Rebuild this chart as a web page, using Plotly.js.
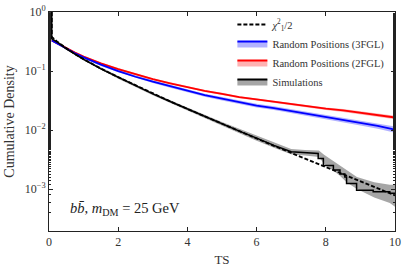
<!DOCTYPE html>
<html>
<head>
<meta charset="utf-8">
<script src="https://cdn.plot.ly/plotly-3.0.1.min.js"></script>
<style>html,body{margin:0;padding:0;background:#fff;}#chart{width:407px;height:268px;}</style>
</head>
<body>
<div id="chart"></div>
<script>
// chi^2_1 / 2 reference curve
var chiTS = [0.08, 0.08, 0.25, 0.5, 0.75, 1, 1.5, 2, 2.5, 3, 3.5, 4, 4.5, 5, 5.5, 6, 6.5, 7, 7.5, 8, 8.5, 9, 9.5, 10];
var chiCD = [1, 0.38, 0.309, 0.240, 0.193, 0.159, 0.110, 0.0787, 0.0569, 0.0416, 0.0307, 0.0228, 0.0170, 0.0127, 0.0095, 0.00715, 0.0054, 0.0041, 0.0031, 0.00234, 0.00178, 0.00135, 0.00103, 0.00078];

// Random positions (3FGL)
var fgl3TS = [0.08, 0.25, 0.5, 0.75, 1, 1.5, 2, 2.5, 3, 3.5, 4, 4.5, 5, 5.5, 6, 6.5, 7, 7.5, 8, 8.5, 9, 9.5, 10];
var fgl3CD = [0.33, 0.29, 0.243, 0.2, 0.17, 0.128, 0.1, 0.08, 0.066, 0.055, 0.046, 0.039, 0.034, 0.0295, 0.026, 0.0235, 0.021, 0.0185, 0.0165, 0.015, 0.0132, 0.0118, 0.0102];
var fgl3Lo = [0.32, 0.28, 0.234, 0.192, 0.163, 0.122, 0.095, 0.076, 0.0625, 0.052, 0.0433, 0.0366, 0.0318, 0.0275, 0.0242, 0.0218, 0.0194, 0.0170, 0.0151, 0.0136, 0.0119, 0.0105, 0.0090];
var fgl3Hi = [0.34, 0.30, 0.252, 0.208, 0.177, 0.134, 0.105, 0.084, 0.0695, 0.058, 0.0487, 0.0414, 0.0362, 0.0315, 0.0278, 0.0252, 0.0226, 0.0200, 0.0179, 0.0164, 0.0145, 0.0131, 0.0115];

// Random positions (2FGL)
var fgl2TS = [0.08, 0.25, 0.5, 0.75, 1, 1.5, 2, 2.5, 3, 3.5, 4, 4.5, 5, 5.5, 6, 6.5, 7, 7.5, 8, 8.5, 9, 9.5, 10];
var fgl2CD = [0.33, 0.29, 0.245, 0.205, 0.175, 0.135, 0.108, 0.088, 0.073, 0.062, 0.053, 0.046, 0.041, 0.036, 0.033, 0.030, 0.0275, 0.025, 0.023, 0.0215, 0.0195, 0.0178, 0.0163];
var fgl2Lo = [0.32, 0.28, 0.237, 0.198, 0.169, 0.130, 0.104, 0.085, 0.0704, 0.0597, 0.0510, 0.0442, 0.0393, 0.0345, 0.0316, 0.0287, 0.0262, 0.0238, 0.0218, 0.0203, 0.0184, 0.0167, 0.0152];
var fgl2Hi = [0.34, 0.30, 0.253, 0.212, 0.181, 0.140, 0.112, 0.091, 0.0756, 0.0643, 0.0550, 0.0478, 0.0427, 0.0375, 0.0344, 0.0313, 0.0288, 0.0262, 0.0242, 0.0227, 0.0206, 0.0189, 0.0174];

// Simulations
var simTS = [0, 0.08, 0.08, 0.25, 0.5, 0.75, 1, 1.5, 2, 2.5, 3, 3.5, 4, 4.5, 5, 5.5, 6, 6.5, 7, 7.4, 7.78, 7.78, 7.93, 7.93, 8.22, 8.22, 8.41, 8.41, 8.55, 8.55, 8.6, 8.6, 8.89, 8.89, 9.37, 9.37, 9.85, 9.85, 10];
var simCD = [1, 1, 0.35, 0.305, 0.238, 0.19, 0.157, 0.109, 0.078, 0.056, 0.041, 0.0305, 0.0228, 0.0169, 0.0127, 0.0096, 0.0073, 0.0055, 0.0043, 0.0041, 0.0040, 0.0033, 0.0033, 0.0025, 0.0025, 0.0021, 0.0021, 0.0018, 0.0018, 0.0016, 0.0016, 0.00124, 0.00124, 0.00096, 0.00096, 0.0009, 0.0009, 0.00085, 0.00085];
var simBandTS = [0.08, 1, 2, 3, 4, 5, 6, 6.5, 7, 7.4, 7.8, 7.95, 8.2, 8.4, 8.6, 8.9, 9.4, 9.85, 10];
var simHi = [0.37, 0.163, 0.082, 0.043, 0.0242, 0.0137, 0.0081, 0.0062, 0.0048, 0.0046, 0.0045, 0.0038, 0.003, 0.0025, 0.0021, 0.0016, 0.0013, 0.00118, 0.00118];
var simLo = [0.33, 0.151, 0.074, 0.039, 0.0214, 0.0117, 0.0066, 0.0050, 0.0039, 0.0037, 0.0035, 0.0027, 0.0021, 0.0017, 0.0013, 0.0010, 0.00072, 0.00058, 0.00050];

var yTickVals = [1, 0.1, 0.01, 0.001];
var yTickText = ['10<sup>0</sup>', '10<sup>\u22121</sup>', '10<sup>\u22122</sup>', '10<sup>\u22123</sup>'];
var xTickVals = [0, 2, 4, 6, 8, 10];

var names = ['<i>\u03c7</i><sup>2</sup><sub>1</sub>/2', 'Random Positions (3FGL)', 'Random Positions (2FGL)', 'Simulations'];

var SERIF = '"Liberation Serif", "Times New Roman", serif';

function band(xs, lo, hi, fillc) {
  return [
    {x: xs, y: lo, type: 'scatter', mode: 'lines', line: {width: 0, color: fillc}, showlegend: false, hoverinfo: 'skip'},
    {x: xs, y: hi, type: 'scatter', mode: 'lines', fill: 'tonexty', fillcolor: fillc, line: {width: 0, color: fillc}, showlegend: false, hoverinfo: 'skip'}
  ];
}

var traces = [];
traces = traces.concat(band(fgl2TS, fgl2Lo, fgl2Hi, 'rgba(255,0,0,0.3)'));
traces = traces.concat(band(fgl3TS, fgl3Lo, fgl3Hi, 'rgba(0,0,255,0.3)'));
traces = traces.concat(band(simBandTS, simLo, simHi, 'rgba(0,0,0,0.35)'));
traces.push({x: fgl2TS, y: fgl2CD, type: 'scatter', mode: 'lines', line: {color: '#ff0000', width: 1.8}, showlegend: false});
traces.push({x: fgl3TS, y: fgl3CD, type: 'scatter', mode: 'lines', line: {color: '#0000ff', width: 1.8}, showlegend: false});
traces.push({x: simTS, y: simCD, type: 'scatter', mode: 'lines', line: {color: '#000000', width: 1.5}, showlegend: false});
traces.push({x: chiTS, y: chiCD, type: 'scatter', mode: 'lines', line: {color: '#000000', width: 1.8, dash: '4px,2px'}, showlegend: false});
// legend entries
traces.push({x: [null], y: [null], type: 'scatter', mode: 'lines', name: names[0], line: {color: '#000', width: 2, dash: '4px,2px'}});
traces.push({x: [null], y: [null], type: 'scatter', mode: 'lines', name: names[1], fill: 'toself', fillcolor: 'rgba(0,0,255,0.3)', line: {color: '#0000ff', width: 2}});
traces.push({x: [null], y: [null], type: 'scatter', mode: 'lines', name: names[2], fill: 'toself', fillcolor: 'rgba(255,0,0,0.3)', line: {color: '#ff0000', width: 2}});
traces.push({x: [null], y: [null], type: 'scatter', mode: 'lines', name: names[3], fill: 'toself', fillcolor: 'rgba(0,0,0,0.35)', line: {color: '#000', width: 2}});

var axisCommon = {
  showline: true, linecolor: '#222', linewidth: 1, mirror: 'allticks',
  ticks: 'inside', ticklen: 4, tickcolor: '#222', showgrid: false, zeroline: false,
  tickfont: {family: SERIF, size: 12, color: '#333'}
};

var layout = {
  width: 407, height: 268,
  margin: {l: 49, r: 12, t: 11, b: 37},
  paper_bgcolor: '#fff', plot_bgcolor: '#fff',
  font: {family: SERIF, color: '#333'},
  xaxis: Object.assign({}, axisCommon, {
    range: [0, 10], tickvals: xTickVals, ticktext: xTickVals.map(String),
    title: {text: 'TS', font: {family: SERIF, size: 13, color: '#333'}, standoff: 6}
  }),
  yaxis: Object.assign({}, axisCommon, {
    type: 'log', range: [-3.71, 0], tickvals: yTickVals, ticktext: yTickText,
    minor: {ticks: 'inside', ticklen: 2, tickcolor: '#222', showgrid: false},
    title: {text: 'Cumulative Density', font: {family: SERIF, size: 14, color: '#333'}, standoff: 6}
  }),
  showlegend: true,
  legend: {x: 0.53, y: 1.005, xanchor: 'left', yanchor: 'top', bgcolor: 'rgba(0,0,0,0)', traceorder: 'normal',
    font: {family: SERIF, size: 10.5, color: '#333'}, itemwidth: 30, tracegroupgap: 0},
  annotations: [{
    xref: 'paper', yref: 'paper', x: 0.055, y: 0.1, xanchor: 'left', yanchor: 'middle', showarrow: false,
    text: '<i>b</i><i>b\u0304</i>, <i>m</i><sub>DM</sub> = 25 GeV',
    font: {family: SERIF, size: 14.5, color: '#222'}
  }]
};

Plotly.newPlot('chart', traces, layout, {staticPlot: true, displayModeBar: false});
</script>
</body>
</html>
